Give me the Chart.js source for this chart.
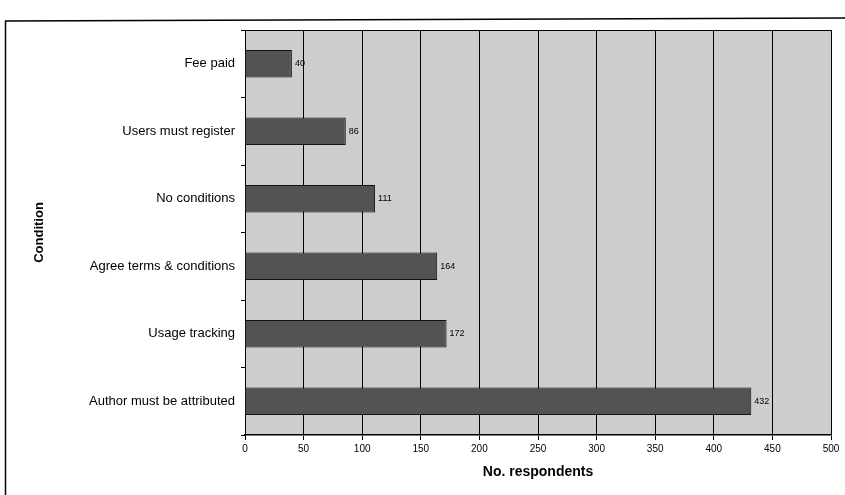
<!DOCTYPE html>
<html>
<head>
<meta charset="utf-8">
<script src="https://cdn.jsdelivr.net/npm/chart.js@4/dist/chart.umd.min.js"></script>
<style>
  html, body { margin: 0; padding: 0; background: #fff; }
  #wrap { width: 845px; height: 495px; position: relative; }
</style>
</head>
<body>
<div id="wrap"><canvas id="chart"></canvas></div>
<script>
// Survey: conditions attached to access
const conditions = [
  'Fee paid',
  'Users must register',
  'No conditions',
  'Agree terms & conditions',
  'Usage tracking',
  'Author must be attributed'
];
const respondents = [40, 86, 111, 164, 172, 432];
const xTicks = [0, 50, 100, 150, 200, 250, 300, 350, 400, 450, 500];

// grey plot background + outer frame lines
const framePlugin = {
  id: 'frame',
  beforeDraw(chart) {
    const { ctx, chartArea: a } = chart;
    ctx.save();
    ctx.fillStyle = '#cdcdcd';
    ctx.fillRect(a.left, a.top, a.right - a.left, a.bottom - a.top);
    ctx.strokeStyle = '#000';
    ctx.lineWidth = 1;
    ctx.beginPath();
    ctx.moveTo(a.left, a.top + 0.5);
    ctx.lineTo(a.right, a.top + 0.5);
    ctx.stroke();
    ctx.lineWidth = 1.5;
    ctx.beginPath();
    ctx.moveTo(5.5, 495);
    ctx.lineTo(5.5, 21);
    ctx.lineTo(845, 18);
    ctx.stroke();
    ctx.restore();
  }
};

// value labels at bar ends
const valueLabels = {
  id: 'valueLabels',
  afterDatasetsDraw(chart) {
    const { ctx } = chart;
    const meta = chart.getDatasetMeta(0);
    ctx.save();
    ctx.font = '9px "Liberation Sans", Arial, sans-serif';
    ctx.fillStyle = '#000';
    ctx.textBaseline = 'middle';
    meta.data.forEach((bar, i) => {
      ctx.fillText(respondents[i], bar.x + 3, bar.y);
    });
    ctx.restore();
  }
};

const ctx = document.getElementById('chart').getContext('2d');
new Chart(ctx, {
  type: 'bar',
  data: {
    labels: conditions,
    datasets: [{
      data: respondents,
      backgroundColor: '#535353',
      borderColor: '#111',
      borderWidth: 1,
      barPercentage: 0.41,
      categoryPercentage: 1
    }]
  },
  options: {
    indexAxis: 'y',
    responsive: true,
    maintainAspectRatio: false,
    animation: false,
    layout: { padding: { left: 8, top: 30, right: 14, bottom: 14 } },
    plugins: {
      legend: { display: false },
      tooltip: { enabled: false }
    },
    scales: {
      x: {
        min: 0,
        max: 500,
        afterBuildTicks(scale) { scale.ticks = xTicks.map(v => ({ value: v })); },
        afterFit(scale) { scale.height = 46; },
        grid: {
          color: '#000',
          lineWidth: 1,
          tickLength: 5,
          drawTicks: true
        },
        border: { color: '#000', width: 1.5 },
        ticks: {
          color: '#000',
          font: { family: '"Liberation Sans", Arial, sans-serif', size: 10 },
          padding: 3,
          maxRotation: 0
        },
        title: {
          display: true,
          text: 'No. respondents',
          color: '#000',
          font: { family: '"Liberation Sans", Arial, sans-serif', size: 14, weight: 'bold' },
          padding: { top: 8, bottom: 0 }
        }
      },
      y: {
        afterFit(scale) { scale.width = 237; },
        grid: {
          offset: true,
          drawOnChartArea: false,
          color: '#000',
          tickLength: 4
        },
        border: { color: '#000', width: 1 },
        ticks: {
          color: '#000',
          font: { family: '"Liberation Sans", Arial, sans-serif', size: 13 },
          padding: 6
        },
        title: {
          display: true,
          text: 'Condition',
          color: '#000',
          font: { family: '"Liberation Sans", Arial, sans-serif', size: 13, weight: 'bold' },
          padding: { top: 24, bottom: 0 }
        }
      }
    }
  },
  plugins: [framePlugin, valueLabels]
});
</script>
</body>
</html>
